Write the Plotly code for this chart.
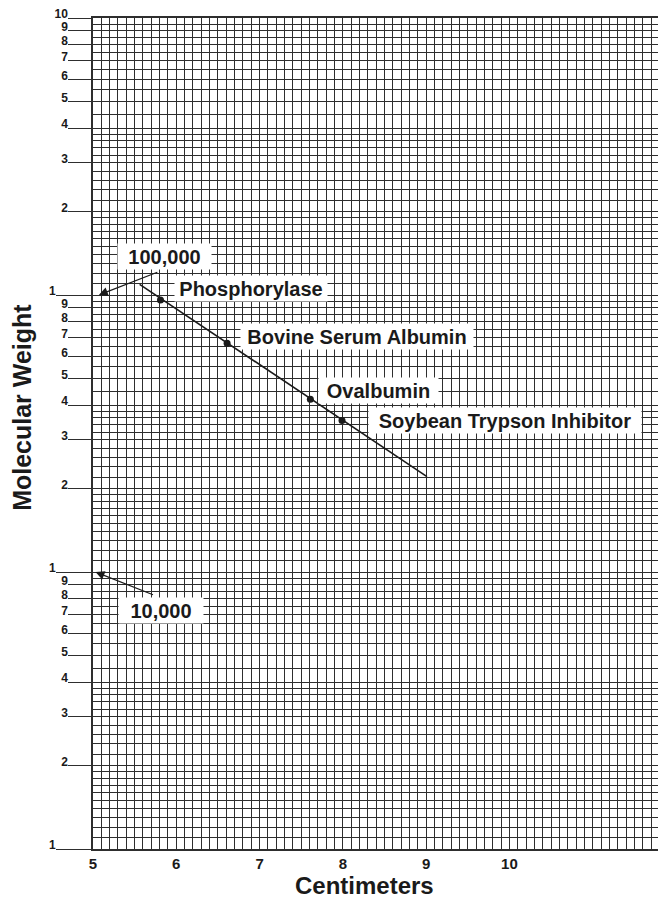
import numpy as np
import plotly.graph_objects as go

# ---------------- data ----------------
protein_names = ["Phosphorylase", "Bovine Serum Albumin", "Ovalbumin", "Soybean Trypson Inhibitor"]
protein_cm = [5.81, 6.61, 7.61, 7.99]
protein_mw = [96000, 67000, 42000, 35200]

fit_cm = [5.56, 9.01]
fit_mw = [109300, 22100]

ref_labels = ["100,000", "10,000"]
ref_mw = [100000, 10000]
ref_tip_cm = [5.07, 5.03]

x_tick_vals = [5, 6, 7, 8, 9, 10]
x_tick_text = ["5", "6", "7", "8", "9", "10"]

decades = [1000, 10000, 100000]
mantissas = [2, 3, 4, 5, 6, 7, 8, 9]
mantissa_text = ["2", "3", "4", "5", "6", "7", "8", "9"]
grid_mantissas = [1.1, 1.2, 1.3, 1.4, 1.5, 1.6, 1.7, 1.8, 1.9,
                  2.2, 2.4, 2.6, 2.8, 3.2, 3.4, 3.6, 3.8,
                  4.5, 5.5, 6.5, 7.5, 8.5, 9.5]

x_range = [5, 11.88]
x_minor_step = 0.1

# ---------------- styles ----------------
INK = "#1a1a1a"
GRID = "#2e2e2e"
GW = 1.35
FONT = "Liberation Sans, Arial, Helvetica, sans-serif"

# label box placement (pixels, relative to anchor) : xshift, yshift, width
protein_box = [(14, 11, 152), (13, 7, 232), (8, 9, 119), (26, 0, 272)]
ref_box = [(18, 39, 93), (22, -38, 84)]
ref_arrow = [(59, -23), (58, 23)]

# ---------------- derived axis values ----------------
y_tickvals = [m * d for d in decades for m in mantissas] + [decades[-1] * 10]
y_ticktext = [t for d in decades for t in mantissa_text] + ["10"]
y_minor = [round(m * d, 6) for d in decades for m in grid_mantissas] + decades
n_minor = int(round((x_range[1] - x_range[0]) / x_minor_step))
x_minor = [round(x_range[0] + i * x_minor_step, 4) for i in range(n_minor + 1)]
x_minor = [v for v in x_minor if v <= x_range[1]]

fig = go.Figure()

fig.add_trace(go.Scatter(
    x=fit_cm, y=fit_mw, mode="lines", yaxis="y2",
    line=dict(color=INK, width=1.6), hoverinfo="skip", showlegend=False))

fig.add_trace(go.Scatter(
    x=protein_cm, y=protein_mw, mode="markers",
    marker=dict(color=INK, size=7), text=protein_names,
    hovertemplate="%{text}: %{x} cm, %{y}<extra></extra>", showlegend=False))

annotations = []
for name, cx, mw, (dx, dy, w) in zip(protein_names, protein_cm, protein_mw, protein_box):
    annotations.append(dict(
        x=cx, y=np.log10(mw), xref="x", yref="y", text=name, showarrow=False,
        xanchor="left", yanchor="middle", xshift=dx, yshift=dy,
        width=w, height=25, align="center", valign="middle",
        bgcolor="white", borderpad=0,
        font=dict(family=FONT, size=20, color=INK, weight="bold")))

for lab, mw, tx, (dx, dy, w), (ax, ay) in zip(ref_labels, ref_mw, ref_tip_cm, ref_box, ref_arrow):
    annotations.append(dict(
        x=tx, y=np.log10(mw), xref="x", yref="y", text=lab, showarrow=False,
        xanchor="left", yanchor="middle", xshift=dx, yshift=dy,
        width=w, height=25, align="center", valign="middle",
        bgcolor="white", borderpad=0,
        font=dict(family=FONT, size=20, color=INK, weight="bold")))
    annotations.append(dict(
        x=tx, y=np.log10(mw), xref="x", yref="y", text="", showarrow=True,
        ax=ax, ay=ay, axref="pixel", ayref="pixel", borderpad=0,
        arrowhead=2, arrowsize=1.5, arrowwidth=1.2, arrowcolor=INK, standoff=0,
        font=dict(size=1)))

annotations.append(dict(
    x=0.4738, y=-0.0445, xref="paper", yref="paper", text="Centimeters",
    showarrow=False, xanchor="center", yanchor="middle",
    font=dict(family=FONT, size=24, color=INK, weight="bold")))
annotations.append(dict(
    x=-0.124, y=0.532, xref="paper", yref="paper", text="Molecular Weight",
    showarrow=False, xanchor="center", yanchor="middle", textangle=-90,
    font=dict(family=FONT, size=25, color=INK, weight="bold")))

# the page body has an 8px margin, so the figure is sized/offset to compensate
fig.update_layout(
    width=658, height=892,
    margin=dict(l=85, r=0, t=10, b=51, pad=0),
    plot_bgcolor="white", paper_bgcolor="white",
    showlegend=False,
    annotations=annotations,
    xaxis=dict(
        range=x_range, tickmode="array", tickvals=x_tick_vals, ticktext=x_tick_text,
        ticks="", showgrid=True, gridcolor=GRID, gridwidth=GW,
        minor=dict(tickmode="array", tickvals=x_minor, showgrid=True,
                   gridcolor=GRID, gridwidth=GW, ticks=""),
        showline=True, linecolor=GRID, linewidth=1.5, mirror=True,
        zeroline=False, automargin=False,
        tickfont=dict(family=FONT, size=15, color=INK, weight="bold")),
    yaxis=dict(
        type="log", range=[3, 6], tickmode="array",
        tickvals=y_tickvals, ticktext=y_ticktext,
        ticks="outside", ticklen=23, tickwidth=1.3, tickcolor=GRID,
        ticklabelstandoff=-2, ticklabelshift=-4, ticklabeloverflow="allow",
        showgrid=True, gridcolor=GRID, gridwidth=GW,
        minor=dict(tickmode="array", tickvals=y_minor, showgrid=True,
                   gridcolor=GRID, gridwidth=GW, ticks=""),
        showline=True, linecolor=GRID, linewidth=1.5,
        zeroline=False, automargin=False,
        tickfont=dict(family=FONT, size=12, color=INK, weight="bold")),
    yaxis2=dict(
        type="log", range=[3, 6], overlaying="y", side="left", anchor="x",
        tickmode="array", tickvals=decades, ticktext=["1"] * len(decades),
        ticks="outside", ticklen=36, tickwidth=1.3, tickcolor=GRID,
        ticklabelstandoff=-2, ticklabelshift=-4, ticklabeloverflow="allow",
        showgrid=False, showline=False, zeroline=False, automargin=False,
        tickfont=dict(family=FONT, size=12, color=INK, weight="bold")),
)

fig.write_html("out.html")
